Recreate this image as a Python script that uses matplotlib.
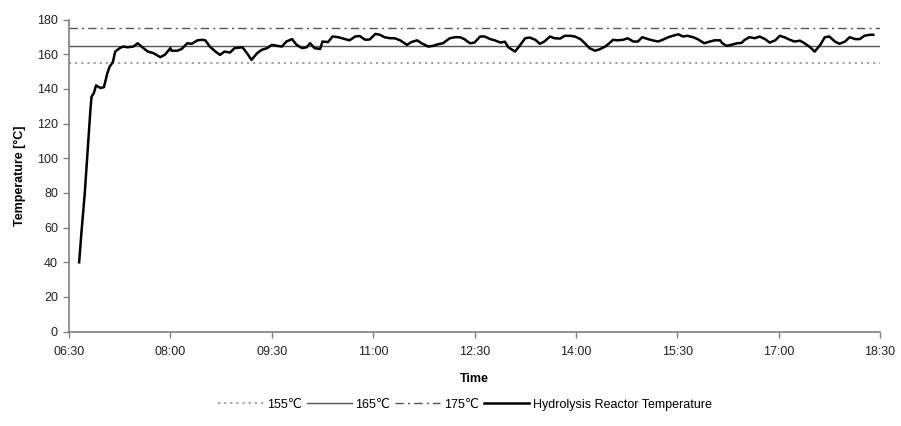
#!/usr/bin/env python3

import matplotlib
matplotlib.use("Agg")
import matplotlib.pyplot as plt
import numpy as np

# reactor temperature log
times = ["06:39", "06:41", "06:44", "06:47", "06:49", "06:50", "06:52", "06:54", "06:58", "07:01",
         "07:04", "07:06", "07:09", "07:11", "07:15", "07:18", "07:22", "07:27", "07:31", "07:36",
         "07:40", "07:45", "07:51", "07:55", "08:00", "08:01", "08:06", "08:10", "08:15", "08:19",
         "08:24", "08:28", "08:31", "08:35", "08:40", "08:44", "08:48", "08:53", "08:57", "09:04",
         "09:08", "09:12", "09:17", "09:21", "09:26", "09:30", "09:35", "09:39", "09:43", "09:48",
         "09:52", "09:57", "10:01", "10:04", "10:08", "10:13", "10:15", "10:20", "10:24", "10:29",
         "10:35", "10:39", "10:44", "10:48", "10:53", "10:57", "11:02", "11:06", "11:10", "11:15",
         "11:19", "11:24", "11:30", "11:34", "11:39", "11:43", "11:49", "11:53", "11:58", "12:02",
         "12:08", "12:13", "12:17", "12:21", "12:26", "12:30", "12:35", "12:39", "12:44", "12:48",
         "12:53", "12:57", "13:00", "13:06", "13:10", "13:15", "13:19", "13:24", "13:28", "13:32",
         "13:37", "13:41", "13:46", "13:50", "13:55", "13:59", "14:04", "14:08", "14:12", "14:17",
         "14:21", "14:26", "14:30", "14:33", "14:37", "14:42", "14:46", "14:51", "14:55", "14:59",
         "15:04", "15:08", "15:13", "15:17", "15:22", "15:26", "15:31", "15:35", "15:39", "15:44",
         "15:48", "15:54", "15:59", "16:03", "16:08", "16:10", "16:14", "16:18", "16:23", "16:27",
         "16:30", "16:34", "16:39", "16:43", "16:48", "16:52", "16:57", "17:01", "17:05", "17:10",
         "17:14", "17:19", "17:23", "17:28", "17:32", "17:37", "17:41", "17:45", "17:50", "17:54",
         "17:59", "18:03", "18:08", "18:12", "18:16", "18:21", "18:24"]
temps = [40, 57, 80, 109, 128, 135.5, 137.5, 142, 140.5, 141,
         149, 152.7, 155.6, 161.5, 163.5, 164.4, 164, 164.4, 166.3, 163.5,
         161.5, 160.6, 158.3, 159.6, 163.5, 162, 162, 163, 166.3, 166,
         168, 168.3, 168, 164.4, 161.5, 159.6, 161.5, 161, 163.5, 164,
         160.6, 156.7, 160.6, 162.5, 163.5, 165.4, 164.8, 164.4, 167.3, 168.7,
         165.4, 163.5, 164, 166.3, 163.5, 163, 167.3, 167, 170.2, 169.8,
         168.7, 168, 170.2, 170.5, 168.3, 168.5, 171.7, 171.2, 169.8, 169.2,
         169.2, 168, 165.4, 167, 168, 166.3, 164.4, 164.8, 165.8, 166.3,
         169.2, 169.8, 169.8, 168.7, 166.3, 166.7, 170.2, 170.2, 168.7, 168,
         166.7, 167.2, 164, 161.5, 164.8, 169.2, 169.6, 168.3, 166, 167.3,
         170.2, 169.2, 169, 170.6, 170.6, 170.2, 168.7, 166.3, 163.5, 162,
         162.8, 164.4, 166.5, 168.3, 168, 168.3, 169.2, 167.3, 167.3, 169.8,
         168.7, 168, 167.3, 168.3, 169.8, 170.6, 171.5, 170.2, 170.6, 169.8,
         168.7, 166.3, 167.3, 168, 168, 166.3, 164.8, 165.4, 166.3, 166.5,
         168.3, 169.8, 169.2, 170.2, 168.7, 166.7, 168, 170.6, 169.8, 168.3,
         167.3, 167.8, 166.3, 164, 161.5, 165.4, 169.8, 170.2, 167.3, 166,
         167.3, 169.8, 168.7, 168.7, 170.6, 171.2, 171.2]

limits = [155, 165, 175]
limit_labels = ["155\u2103", "165\u2103", "175\u2103"]
tick_labels = ["06:30", "08:00", "09:30", "11:00", "12:30", "14:00", "15:30", "17:00", "18:30"]
y_ticks = list(range(0, 181, 20))


def hours(s):
    h, m = s.split(":")
    return int(h) + int(m) / 60.0


plt.rcParams["font.family"] = ["Liberation Sans", "DejaVu Sans"]

fig = plt.figure(figsize=(9.01, 4.26), dpi=100)
ax = fig.add_axes([0.0766, 0.2214, 0.9001, 0.7328])

x = np.array([hours(t) for t in times])
y = np.array(temps)

l1 = ax.axhline(limits[0], color="#9a9a9a", lw=1.3, ls=(0, (1.2, 2.2)))
l2 = ax.axhline(limits[1], color="#555555", lw=1.0, ls="-")
l3 = ax.axhline(limits[2], color="#555555", lw=1.0, ls=(0, (6, 3, 1.5, 3)))
l4, = ax.plot(x, y, color="black", lw=1.8)

xt = [hours(t) for t in tick_labels]
ax.set_xlim(xt[0], xt[-1])
ax.set_ylim(0, 180)
ax.set_xticks(xt)
ax.set_xticklabels(tick_labels)
ax.set_yticks(y_ticks)

for s in ["top", "right"]:
    ax.spines[s].set_visible(False)
for s in ["left", "bottom"]:
    ax.spines[s].set_color("#808080")
    ax.spines[s].set_linewidth(1.2)
ax.tick_params(axis="both", direction="out", length=4, width=1, color="#808080",
               labelsize=9, labelcolor="#222222", pad=4)
ax.tick_params(axis="x", pad=6)

ax.set_xlabel("Time", fontsize=9, fontweight="bold", labelpad=11)
ax.set_ylabel("Temperature [\u00b0C]", fontsize=9, fontweight="bold", labelpad=8)

fig.legend([l1, l2, l3, l4], limit_labels + ["Hydrolysis Reactor Temperature"],
           loc="center", bbox_to_anchor=(0.516, 0.05), ncol=4, frameon=False,
           fontsize=9, handlelength=3.6, handletextpad=0.3, columnspacing=0.4)

fig.savefig("out.png", dpi=100)
